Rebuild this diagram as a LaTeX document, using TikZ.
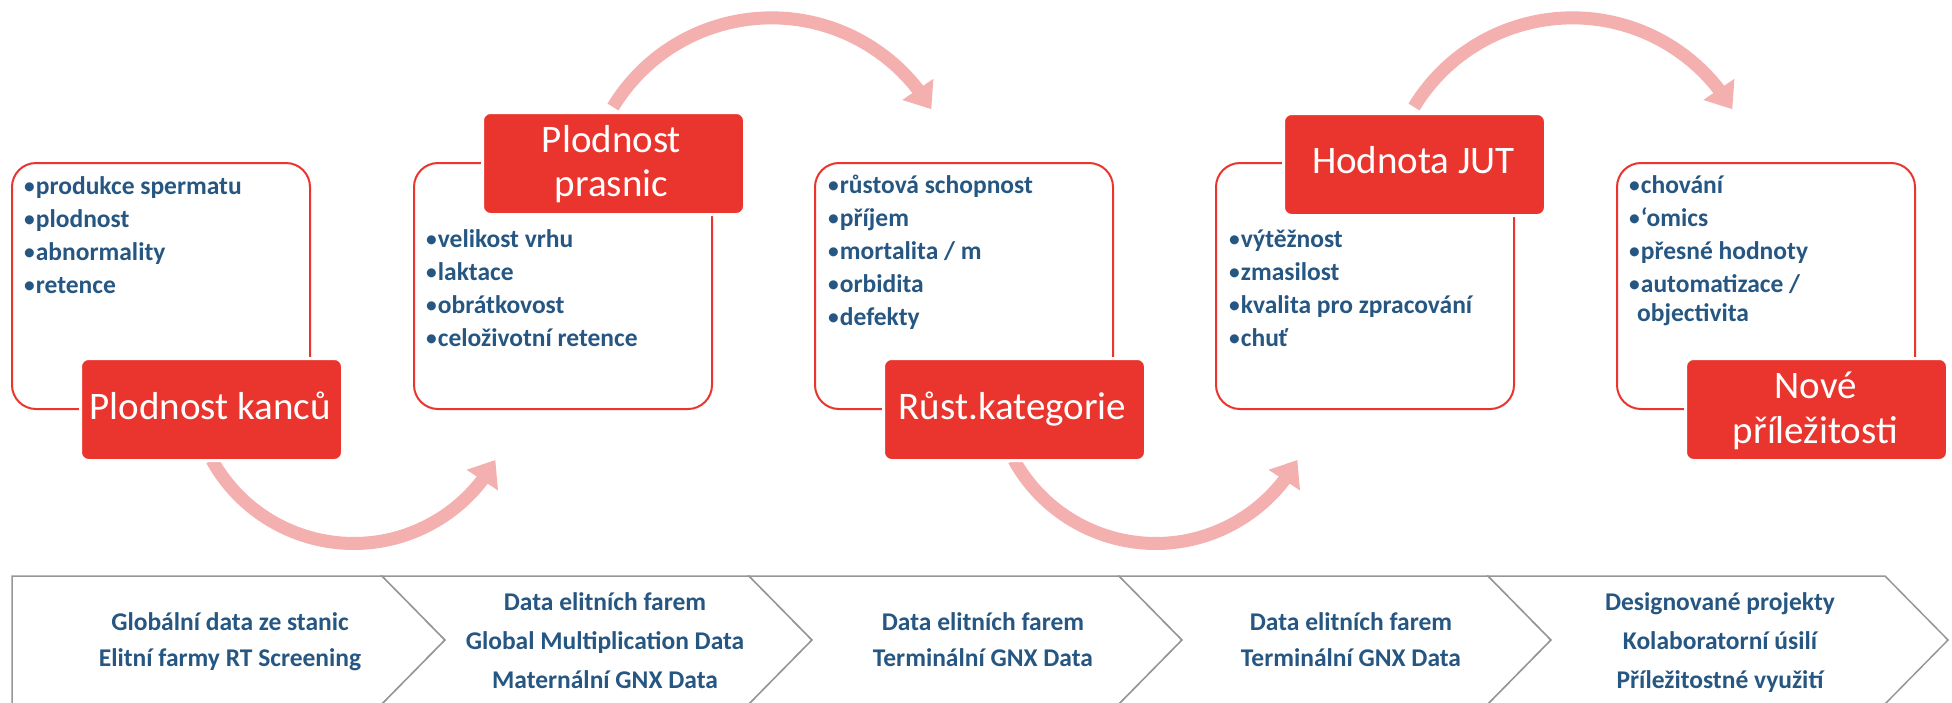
\documentclass[tikz,border=0pt]{standalone}
\usepackage{fontspec}
\setmainfont{Carlito}
\usetikzlibrary{arrows.meta,bending}

\definecolor{boxred}{RGB}{234,53,46}
\definecolor{txtblue}{RGB}{38,86,130}
\definecolor{arrowpink}{RGB}{244,175,175}
\definecolor{stripgray}{RGB}{150,150,150}

% centred and left-aligned line stacks whose baseline is the first line
\newcommand\cstack[1]{\vtop{\halign{\hfil##\hfil\cr#1\crcr}}}
\newcommand\lstack[1]{\vtop{\halign{##\hfil\cr#1\crcr}}}
% list bullet, a little lighter than the bold item text
\newcommand\bul{\textmd{•}}

\begin{document}
\begin{tikzpicture}[x=1pt,y=-1pt,
  panel/.style={draw=boxred, line width=2pt, rounded corners=24pt, fill=white,
    minimum width=298pt, minimum height=246pt, anchor=north west, inner sep=0pt},
  headbox/.style={fill=boxred, draw=white, line width=3pt, rounded corners=8pt,
    minimum width=262pt, minimum height=102pt, anchor=north west, inner sep=0pt},
  headtext/.style={text=white, font=\fontsize{39}{44}\selectfont, anchor=base, inner sep=0pt},
  items/.style={text=txtblue, font=\bfseries\fontsize{25.5}{33}\selectfont, anchor=base west, inner sep=0pt},
  flow/.style={draw=arrowpink, line width=13pt, -{Triangle[length=24pt,width=36pt,flex]}},
  chevron/.style={draw=stripgray, line width=1.5pt, fill=white, line join=miter},
  striptext/.style={text=txtblue, font=\bfseries\fontsize{25.5}{36}\selectfont, anchor=base, inner sep=0pt},
  striptextwide/.style={striptext, font=\bfseries\fontsize{25.5}{39}\selectfont},
]
\useasboundingbox (0,0) rectangle (1952,702);
\clip (0,0) rectangle (1952,702);

% ---- data-source strip ----
\draw[chevron] (12,576) -- (382,576) -- (445,640) -- (382,704) -- (12,704) -- cycle;
\draw[chevron] (382,576) -- (749,576) -- (812,640) -- (749,704) -- (382,704) -- (445,640) -- cycle;
\draw[chevron] (749,576) -- (1119,576) -- (1182,640) -- (1119,704) -- (749,704) -- (812,640) -- cycle;
\draw[chevron] (1119,576) -- (1488,576) -- (1551,640) -- (1488,704) -- (1119,704) -- (1182,640) -- cycle;
\draw[chevron] (1488,576) -- (1885,576) -- (1948,640) -- (1885,704) -- (1488,704) -- (1551,640) -- cycle;

\node[striptext] (s1) at (230,630) {\cstack{Globální data ze stanic\cr Elitní farmy RT Screening}};
\node[striptextwide] (s2) at (605,610) {\cstack{Data elitních farem\cr Global Multiplication Data\cr Maternální GNX Data}};
\node[striptext] (s3) at (983,630) {\cstack{Data elitních farem\cr Terminální GNX Data}};
\node[striptext] (s4) at (1351,630) {\cstack{Data elitních farem\cr Terminální GNX Data}};
\node[striptextwide] (s5) at (1720,610) {\cstack{Designované projekty\cr Kolaboratorní úsilí\cr Příležitostné využití}};

% ---- outlined panels ----
\node[panel] (p1) at (11,162) {};
\node[panel] (p2) at (413,162) {};
\node[panel] (p3) at (814,162) {};
\node[panel] (p4) at (1215,162) {};
\node[panel] (p5) at (1616,162) {};

% ---- red heading boxes (positions only, arrows start beneath them) ----
\coordinate (h1c) at (79,357);
\coordinate (h2c) at (481,111);
\coordinate (h3c) at (882,357);
\coordinate (h4c) at (1282,112);
\coordinate (h5c) at (1684,357);

% ---- curved flow arrows ----
\draw[flow] ([shift={(133,103)}]h1c) arc[start angle=151, end angle=29, radius=162];
\draw[flow] ([shift={(132,-4)}]h2c) arc[start angle=211.3, end angle=329.5, radius=185.5];
\draw[flow] ([shift={(132,103)}]h3c) arc[start angle=151, end angle=29, radius=162];
\draw[flow] ([shift={(132,-5)}]h4c) arc[start angle=211.3, end angle=329.5, radius=185.5];

\node[headbox] (h1) at (h1c) {};
\node[headbox] (h2) at (h2c) {};
\node[headbox] (h3) at (h3c) {};
\node[headbox] (h4) at (h4c) {};
\node[headbox] (h5) at (h5c) {};

\node[headtext] (t1) at (210,419) {Plodnost kanců};
\node[headtext] (t2) at (611.5,152) {\cstack{Plodnost\cr prasnic}};
\node[headtext] (t3) at (1012.5,419) {Růst.kategorie};
\node[headtext] (t4) at (1413.5,173) {Hodnota JUT};
\node[headtext, font=\fontsize{39}{45}\selectfont] (t5) at (1815.5,398) {\cstack{Nové\cr příležitosti}};

% ---- bullet lists ----
\node[items] (i1) at (23,194) {\lstack{\bul produkce spermatu\cr \bul plodnost\cr \bul abnormality\cr \bul retence}};
\node[items] (i2) at (425,247) {\lstack{\bul velikost vrhu\cr \bul laktace\cr \bul obrátkovost\cr \bul celoživotní retence}};
\node[items] (i3) at (827,193.5) {\lstack{\bul růstová schopnost\cr \bul příjem\cr \bul mortalita / m\cr \bul orbidita\cr \bul defekty}};
\node[items] (i4) at (1228,247) {\lstack{\bul výtěžnost\cr \bul zmasilost\cr \bul kvalita pro zpracování\cr \bul chuť}};
\node[items] (i5) at (1628,193.5) {\lstack{\bul chování\cr \bul ‘omics\cr \bul přesné hodnoty\cr \bul automatizace /\cr\noalign{\vskip-4pt} \hspace{9pt}objectivita}};
\end{tikzpicture}
\end{document}
